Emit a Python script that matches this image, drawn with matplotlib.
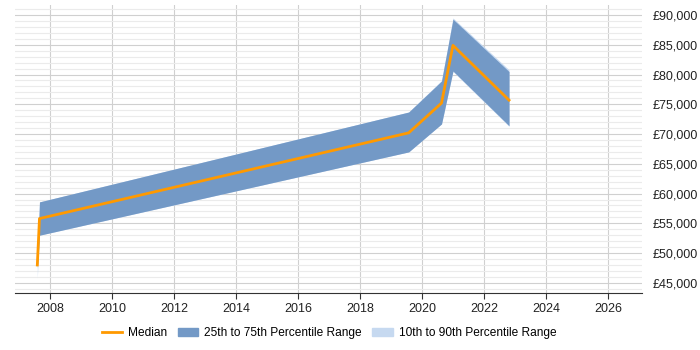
import matplotlib
matplotlib.use("Agg")
import matplotlib.pyplot as plt
from matplotlib.ticker import MultipleLocator, FuncFormatter
from matplotlib.patches import Patch
from matplotlib.lines import Line2D

plt.rcParams['font.family'] = ['Liberation Sans', 'DejaVu Sans']

years = [2007.58, 2007.65, 2019.57, 2020.63, 2021.0, 2022.81]
p10 = [45800, 53000, 67000, 71700, 80500, 71300]
p25 = [47500, 53000, 67000, 71700, 80600, 71400]
p50 = [48000, 55800, 70200, 75200, 84900, 75700]
p75 = [48500, 58600, 73700, 78900, 89300, 80500]
p90 = [48500, 58600, 73700, 79000, 89500, 80800]
xticks = list(range(2008, 2027, 2))

fig = plt.figure(figsize=(7, 3.5), dpi=100)
ax = fig.add_axes([0.021, 0.163, 0.896, 0.823])

c_med = '#FF9900'
c_iqr = '#7399C6'
c_dec = '#C6D9F0'

ax.fill_between(years, p10, p90, color=c_dec, lw=0, zorder=2)
ax.fill_between(years, p25, p75, color=c_iqr, lw=0, zorder=3)
ax.plot(years, p50, color=c_med, lw=2, zorder=4)

ax.set_xlim(2006.85, 2027.1)
ax.set_ylim(43300, 91700)
ax.set_xticks(xticks)
ax.yaxis.set_major_locator(MultipleLocator(5000))
ax.yaxis.set_minor_locator(MultipleLocator(1000))
ax.yaxis.tick_right()
ax.yaxis.set_major_formatter(FuncFormatter(lambda v, p: '£{:,.0f}'.format(v)))
ax.grid(True, which='major', axis='both', color='#d0d0d0', lw=0.8, zorder=0)
ax.grid(True, which='minor', axis='y', color='#ebebeb', lw=0.8, zorder=0)
ax.set_axisbelow(True)
for s in ['top', 'right', 'left']:
    ax.spines[s].set_visible(False)
ax.spines['bottom'].set_color('#333333')
ax.tick_params(axis='y', which='both', length=0, pad=8, labelsize=9, colors='#222222')
ax.tick_params(axis='x', length=4, labelsize=9, colors='#222222', color='#333333')

handles = [Line2D([0], [0], color=c_med, lw=2),
           Patch(color=c_iqr), Patch(color=c_dec)]
labels = ['Median', '25th to 75th Percentile Range', '10th to 90th Percentile Range']
fig.legend(handles, labels, loc='center', bbox_to_anchor=(0.47, 0.048), ncol=3,
           frameon=False, fontsize=8.6, handlelength=1.7, handletextpad=0.5,
           columnspacing=0.9)

fig.savefig('out.png', dpi=100)
